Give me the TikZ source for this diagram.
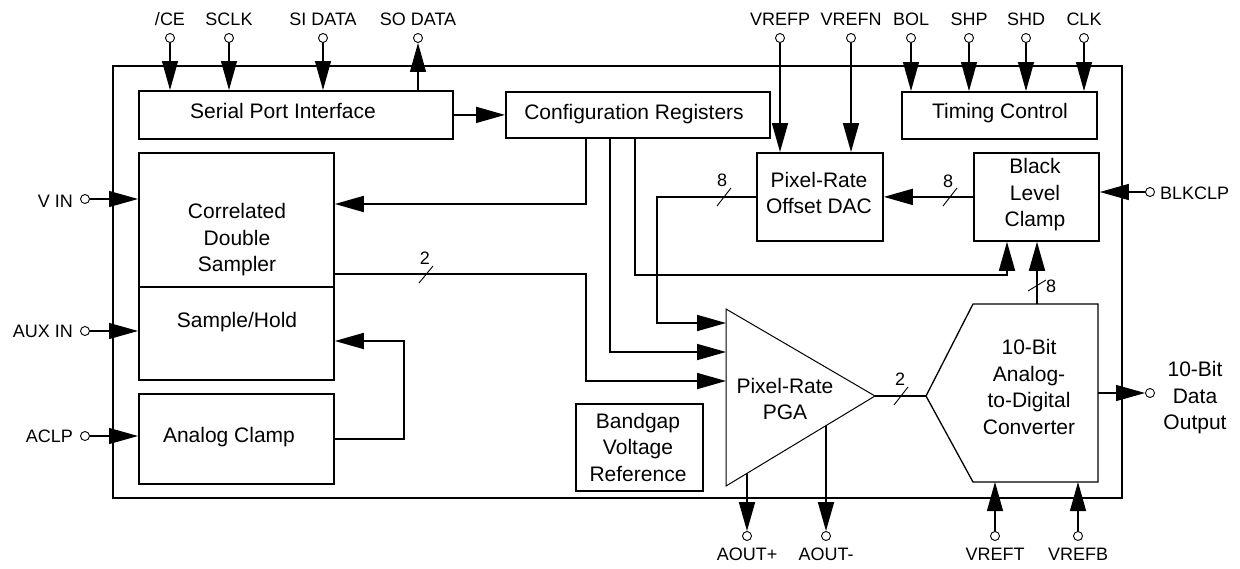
\documentclass[tikz,border=0pt]{standalone}
\usepackage{fontspec}
\setmainfont{Liberation Sans}
\usetikzlibrary{arrows.meta,calc}
\newcommand\boxfont{\fontsize{21}{26.5}\selectfont}
\newcommand\padfont{\fontsize{18}{26.5}\selectfont}
\begin{document}
\begin{tikzpicture}[x=1pt,y=-1pt,
  chipframe/.style={line width=2.7pt},
  blk/.style={draw, line width=1.8pt, inner sep=0pt, anchor=north west},
  txt/.style={font=\boxfont, align=center, inner sep=0pt},
  conn/.style={line width=1.8pt},
  pinwire/.style={line width=1.1pt},
  pad/.style={circle, draw, line width=0.9pt, minimum size=9pt, inner sep=0pt, fill=white},
  padlbl/.style={font=\padfont, inner sep=0pt},
  arr/.style={-{Triangle[length=29pt,width=16pt]}},
  busmark/.style={line width=0.9pt},
]
\useasboundingbox (0,0) rectangle (1240,568);

% chip outline
\draw[chipframe] (113,66) rectangle (1122,498);

% blocks
\node[blk, minimum width=314pt, minimum height=48pt] (spi) at (138,90) {};
\node[blk, minimum width=264pt, minimum height=46pt] (cfg) at (505,91) {};
\node[blk, minimum width=195pt, minimum height=47pt] (tim) at (901,91) {};
\node[blk, minimum width=195pt, minimum height=134pt] (cds) at (138,152) {};
\node[blk, minimum width=195pt, minimum height=93pt] (sh) at (138,286) {};
\node[blk, minimum width=195pt, minimum height=90pt] (ac) at (138,393) {};
\node[blk, minimum width=126pt, minimum height=88pt] (dac) at (756,152) {};
\node[blk, minimum width=125pt, minimum height=88pt] (blc) at (973,152) {};
\node[blk, minimum width=127pt, minimum height=87pt] (bg) at (575,403) {};

% block texts
\node[txt, anchor=base] (tspi) at (283,118) {Serial Port Interface};
\node[txt, anchor=base] (tcfg) at (634,119) {Configuration Registers};
\node[txt, anchor=base] (ttim) at (1000,118) {Timing Control};
\node[txt] (tcds) at (237,240) {Correlated\\Double\\Sampler};
\node[txt, anchor=base] (tsh) at (237,327) {Sample/Hold};
\node[txt, anchor=base] (tac) at (229,442) {Analog Clamp};
\node[txt] (tdac) at (819,193) {Pixel-Rate\\Offset DAC};
\node[txt] (tblc) at (1035,195) {Black\\Level\\Clamp};
\node[txt] (tbg) at (638,447) {Bandgap\\Voltage\\Reference};

% PGA triangle
\coordinate (pgaA) at (726,309);
\coordinate (pgaB) at (726,486);
\coordinate (pgaC) at (875,396);
\draw[line width=1pt] (pgaA) -- (pgaC) -- (pgaB) -- cycle;
\node[txt] (tpga) at (785,399) {Pixel-Rate\\PGA};
\coordinate (pin1) at (726,323);
\coordinate (pin2) at (726,352);
\coordinate (pin3) at (726,381);

% ADC shape
\coordinate (adcNW) at (973,304);
\coordinate (adcNE) at (1098,304);
\coordinate (adcSE) at (1098,482);
\coordinate (adcSW) at (973,482);
\coordinate (adcL) at (926,396);
\draw[line width=1.3pt] (adcNW) -- (adcNE) -- (adcSE) -- (adcSW) -- (adcL) -- cycle;
\node[txt] (tadc) at (1029,387) {10-Bit\\Analog-\\to-Digital\\Converter};
\coordinate (adcTop) at (1037,304);
\coordinate (adcOut) at (1098,393);

% pads
\foreach \n/\x/\t in {ce/170/{/CE}, sclk/229/SCLK, si/323/SI DATA, so/418/SO DATA,
  vrefp/780/VREFP, vrefn/851/VREFN, bol/911/BOL, shp/969/SHP, shd/1026/SHD, clk/1084/CLK}
  {\node[pad] (\n) at (\x,38) {};
   \node[padlbl, anchor=base] (l\n) at (\x,25) {\t};}
\foreach \n/\y/\b/\t in {vin/199/207/V IN, aux/331/337/AUX IN, aclp/436/442/ACLP}
  {\node[pad] (\n) at (85,\y) {};
   \node[padlbl, anchor=base east] (l\n) at (73,\b) {\t};}
\node[pad] (blk) at (1150,192) {};
\node[padlbl, anchor=base west] (lblk) at (1160,199) {BLKCLP};
\node[pad] (dout) at (1150,393) {};
\node[txt] (ldout) at (1195,398) {10-Bit\\Data\\Output};
\foreach \n/\x/\t in {aoutp/747/AOUT+, aoutm/826/AOUT-, vreft/995/VREFT, vrefb/1078/VREFB}
  {\node[pad] (\n) at (\x,536) {};
   \node[padlbl, anchor=base] (l\n) at (\x,560) {\t};}

% bend helpers
\coordinate (k1) at (586,204);
\coordinate (k2) at (610,352);
\coordinate (k3) at (635,275);
\coordinate (k4) at (1007,275);
\coordinate (k5) at (657,323);
\coordinate (k6) at (586,274);
\coordinate (k7) at (404,341);

% top pin connections
\foreach \n in {ce,sclk,si} {\draw[pinwire,arr] (\n) -- (\n |- spi.north);}
\draw[pinwire,arr] (so |- spi.north) -- (so);
\foreach \n in {vrefp,vrefn} {\draw[conn,arr] (\n) -- (\n |- dac.north);}
\foreach \n in {bol,shp,shd,clk} {\draw[pinwire,arr] (\n) -- (\n |- tim.north);}

% left pins
\draw[pinwire,arr] (vin) -- (vin -| cds.west);
\draw[pinwire,arr] (aux) -- (aux -| sh.west);
\draw[pinwire,arr] (aclp) -- (aclp -| ac.west);

% right pins
\draw[pinwire,arr] (blk) -- (blk -| blc.east);
\draw[pinwire,arr] (adcOut) -- (dout);

% bottom pins
\draw[conn,arr] ($(pgaB)!0.141!(pgaC)$) -- (aoutp);
\draw[conn,arr] ($(pgaB)!0.671!(pgaC)$) -- (aoutm);
\draw[pinwire,arr] (vreft) -- (vreft |- adcSW);
\draw[pinwire,arr] (vrefb) -- (vrefb |- adcSW);

% internal connections
\draw[conn,arr] (spi.east) -- (cfg.west);
\draw[conn,arr] (cfg.south -| k1) |- (cds.east |- k1);
\draw[conn,arr] (cfg.south -| k2) |- (pin2);
\draw[conn,arr] (cfg.south -| k3) |- (k4) -- (k4 |- blc.south);
\draw[conn,arr] (dac.west) -| (k5) -- (pin1);
\draw[conn,arr] (cds.east |- k6) -- (k6) |- (pin3);
\draw[conn,arr] (blc.west) -- (dac.east);
\draw[conn,arr] (adcTop) -- (adcTop |- blc.south);
\draw[conn,arr] (ac.east) -| (k7) -- (k7 -| sh.east);
\draw[conn] (pgaC) -- (adcL);

% bus width marks
\draw[busmark] (419,283) -- (433,266);
\node[padlbl, anchor=base] (b1) at (425,264) {2};
\draw[busmark] (717,206) -- (731,188);
\node[padlbl, anchor=base] (b2) at (722,186) {8};
\draw[busmark] (943,206) -- (957,188);
\node[padlbl, anchor=base] (b3) at (948,187) {8};
\draw[busmark] (894,405) -- (908,387);
\node[padlbl, anchor=base] (b4) at (900,385) {2};
\draw[busmark] (1028,291) -- (1046,280);
\node[padlbl, anchor=base] (b5) at (1051,292) {8};
\end{tikzpicture}
\end{document}
